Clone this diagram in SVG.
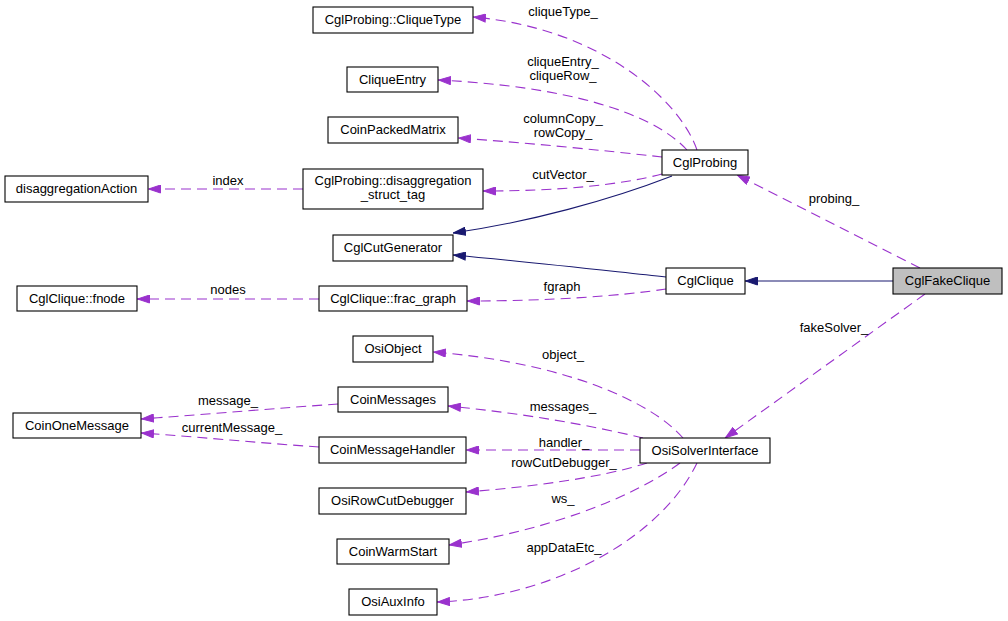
<svg xmlns="http://www.w3.org/2000/svg" width="1008" height="621" viewBox="0 0 1008 621">
<style>
.n rect{fill:#fff;stroke:#000;stroke-width:1.1}
.n text,.l{font-family:"Liberation Sans",Arial,sans-serif;font-size:13px;fill:#000;text-anchor:middle}
.u{fill:none;stroke:#9a32cd;stroke-width:1.1;stroke-dasharray:10,6;marker-end:url(#ap)}
.i{fill:none;stroke:#191970;stroke-width:1.1;marker-end:url(#ab)}
</style>
<defs>
<marker id="ap" viewBox="0 0 13 9" refX="13" refY="4.5" markerWidth="13" markerHeight="9" markerUnits="userSpaceOnUse" orient="auto"><path d="M0.5,0.5 L12.5,4.5 L0.5,8.5 z" fill="#9a32cd" stroke="#9a32cd"/></marker>
<marker id="ab" viewBox="0 0 13 9" refX="13" refY="4.5" markerWidth="13" markerHeight="9" markerUnits="userSpaceOnUse" orient="auto"><path d="M0.5,0.5 L12.5,4.5 L0.5,8.5 z" fill="#191970" stroke="#191970"/></marker>
</defs>
<rect width="1008" height="621" fill="#fff"/>
<g id="edges">
<path class="u" d="M697,150 C680,100 600,28 473,17"/>
<path class="u" d="M687,150 C650,110 560,86 438,80"/>
<path class="u" d="M662,157 C600,150 530,143 458,138"/>
<path class="u" d="M662,174 C620,185 560,191 483,191"/>
<path class="i" d="M672,176 C610,200 530,222 453,233"/>
<path class="i" d="M666,277 C600,270 520,261 453,255"/>
<path class="u" d="M666,289 C620,296 550,301 467,301"/>
<path class="i" d="M893,281 L745,281"/>
<path class="u" d="M920,268 L737,175"/>
<path class="u" d="M925,294 L725,438"/>
<path class="u" d="M303,189 L148,189"/>
<path class="u" d="M319,299 L137,299"/>
<path class="u" d="M683,438 C650,400 560,362 433,352"/>
<path class="u" d="M643,438 C590,425 520,413 448,406"/>
<path class="u" d="M640,450 L466,450"/>
<path class="u" d="M647,463 C600,478 530,487 466,492"/>
<path class="u" d="M680,463 C630,500 540,532 449,545"/>
<path class="u" d="M697,463 C660,540 550,598 437,602"/>
<path class="u" d="M338,404 C280,408 210,414 141,419"/>
<path class="u" d="M319,447 C260,443 200,437 141,433"/>
<text class="l" x="563" y="16">cliqueType_</text>
<text class="l" x="563" y="66">cliqueEntry_</text>
<text class="l" x="563" y="80">cliqueRow_</text>
<text class="l" x="563" y="123">columnCopy_</text>
<text class="l" x="563" y="137">rowCopy_</text>
<text class="l" x="563" y="179">cutVector_</text>
<text class="l" x="228" y="185">index</text>
<text class="l" x="228" y="294">nodes</text>
<text class="l" x="562" y="291">fgraph</text>
<text class="l" x="834" y="203">probing_</text>
<text class="l" x="834" y="332">fakeSolver_</text>
<text class="l" x="563" y="359">object_</text>
<text class="l" x="563" y="411">messages_</text>
<text class="l" x="564" y="447">handler_</text>
<text class="l" x="564" y="467">rowCutDebugger_</text>
<text class="l" x="563" y="503">ws_</text>
<text class="l" x="564" y="552">appDataEtc_</text>
<text class="l" x="228" y="405">message_</text>
<text class="l" x="232" y="432">currentMessage_</text>
</g>
<g id="n_cliquetype" class="n"><rect x="313" y="7" width="160" height="26"/><text x="393" y="24">CglProbing::CliqueType</text></g>
<g id="n_cliqueentry" class="n"><rect x="347" y="67" width="91" height="25"/><text x="392.5" y="84">CliqueEntry</text></g>
<g id="n_coinpackedmatrix" class="n"><rect x="328" y="117" width="130" height="26"/><text x="393" y="134">CoinPackedMatrix</text></g>
<g id="n_disagg" class="n"><rect x="303" y="169" width="180" height="40"/><text x="393" y="185">CglProbing::disaggregation</text><text x="393" y="199">_struct_tag</text></g>
<g id="n_cglprobing" class="n"><rect x="662" y="150" width="86" height="25"/><text x="705" y="167">CglProbing</text></g>
<g id="n_disaggaction" class="n"><rect x="5" y="176" width="143" height="26"/><text x="76.5" y="193">disaggregationAction</text></g>
<g id="n_cglcutgen" class="n"><rect x="333" y="235" width="120" height="26"/><text x="393" y="252">CglCutGenerator</text></g>
<g id="n_fnode" class="n"><rect x="17" y="286" width="120" height="25"/><text x="77" y="303">CglClique::fnode</text></g>
<g id="n_fracgraph" class="n"><rect x="319" y="286" width="148" height="25"/><text x="393" y="303">CglClique::frac_graph</text></g>
<g id="n_cglclique" class="n"><rect x="666" y="268" width="79" height="26"/><text x="705.5" y="285">CglClique</text></g>
<g id="n_cglfakeclique" class="n"><rect x="893" y="268" width="109" height="26" style="fill:#bfbfbf"/><text x="947.5" y="285">CglFakeClique</text></g>
<g id="n_osisolver" class="n"><rect x="640" y="438" width="130" height="25"/><text x="705" y="455">OsiSolverInterface</text></g>
<g id="n_osiobject" class="n"><rect x="353" y="336" width="80" height="26"/><text x="393" y="353">OsiObject</text></g>
<g id="n_coinmessages" class="n"><rect x="338" y="387" width="110" height="25"/><text x="393" y="404">CoinMessages</text></g>
<g id="n_coinonemessage" class="n"><rect x="13" y="413" width="128" height="25"/><text x="77" y="430">CoinOneMessage</text></g>
<g id="n_coinmsghandler" class="n"><rect x="319" y="437" width="147" height="26"/><text x="392.5" y="454">CoinMessageHandler</text></g>
<g id="n_osirowcut" class="n"><rect x="319" y="488" width="147" height="26"/><text x="392.5" y="505">OsiRowCutDebugger</text></g>
<g id="n_coinwarmstart" class="n"><rect x="337" y="539" width="112" height="25"/><text x="393" y="556">CoinWarmStart</text></g>
<g id="n_osiauxinfo" class="n"><rect x="349" y="589" width="88" height="26"/><text x="393" y="606">OsiAuxInfo</text></g>
</svg>
